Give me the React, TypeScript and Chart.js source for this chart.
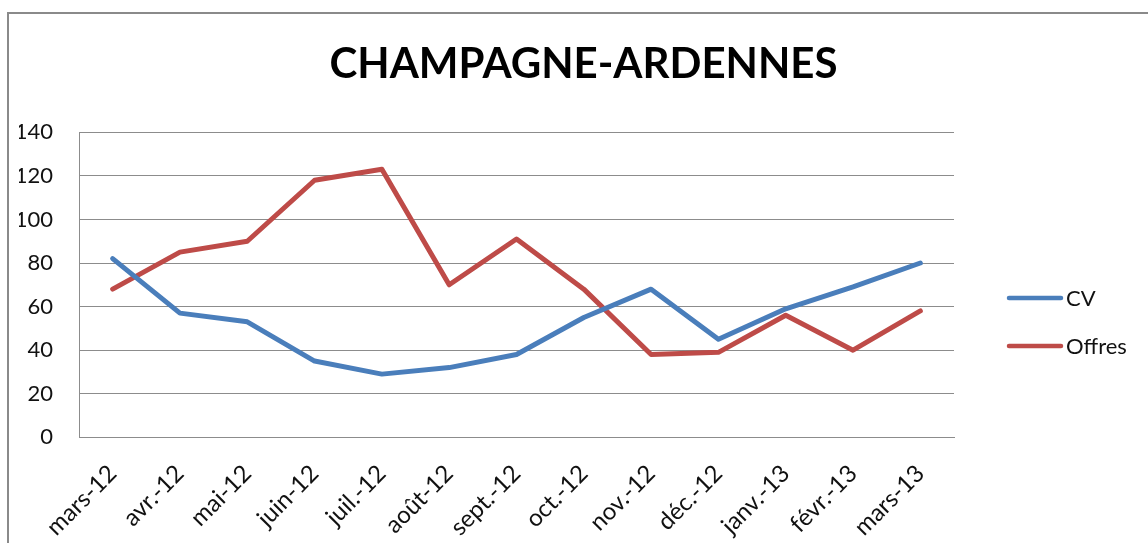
import React, { useEffect, useRef } from "react";
import { Chart, registerables } from "chart.js";

Chart.register(...registerables);

const chartTitle = "CHAMPAGNE-ARDENNES";
const categories = [
  "mars-12", "avr.-12", "mai-12", "juin-12", "juil.-12", "août-12", "sept.-12",
  "oct.-12", "nov.-12", "déc.-12", "janv.-13", "févr.-13", "mars-13",
];
const seriesNames = ["CV", "Offres"];
const cvValues = [82, 57, 53, 35, 29, 32, 38, 55, 68, 45, 59, 69, 80];
const offresValues = [68, 85, 90, 118, 123, 70, 91, 68, 38, 39, 56, 40, 58];
const yMin = 0;
const yMax = 140;
const yStep = 20;

const W = 1148;
const H = 543;
const FONT = "Lato, 'Open Sans', sans-serif";
const TEXT = "#111";
const GRID = "#8c8c8c";
const BLUE = "#4a7ebb";
const RED = "#be4b48";

const framePlugin = {
  id: "frame",
  beforeDraw(chart: any) {
    const ctx = chart.ctx;
    ctx.save();
    ctx.fillStyle = "#ffffff";
    ctx.fillRect(0, 0, chart.width, chart.height);
    ctx.fillStyle = "#8a8a8a";
    ctx.fillRect(7, 12, 2, chart.height - 12);
    ctx.fillRect(7, 12, chart.width - 7, 2);
    ctx.restore();
  },
};

const legendPlugin = {
  id: "sideLegend",
  afterDraw(chart: any) {
    const ctx = chart.ctx;
    ctx.save();
    chart.data.datasets.forEach((ds: any, i: number) => {
      const y = 298 + i * 48;
      ctx.strokeStyle = ds.borderColor;
      ctx.lineWidth = 4.5;
      ctx.lineCap = "round";
      ctx.beginPath();
      ctx.moveTo(1009, y);
      ctx.lineTo(1061, y);
      ctx.stroke();
      ctx.fillStyle = TEXT;
      ctx.font = `22px ${FONT}`;
      ctx.textBaseline = "middle";
      ctx.textAlign = "left";
      ctx.fillText(ds.label, 1066, y + 1);
    });
    ctx.restore();
  },
};

export default function App() {
  const ref = useRef<HTMLCanvasElement | null>(null);

  useEffect(() => {
    if (!ref.current) return;
    const chart = new Chart(ref.current, {
      type: "line",
      data: {
        labels: categories,
        datasets: [
          {
            label: seriesNames[0],
            data: cvValues,
            borderColor: BLUE,
            backgroundColor: BLUE,
            borderWidth: 5,
            pointRadius: 0,
            tension: 0,
            borderCapStyle: "round",
            borderJoinStyle: "round",
          },
          {
            label: seriesNames[1],
            data: offresValues,
            borderColor: RED,
            backgroundColor: RED,
            borderWidth: 5,
            pointRadius: 0,
            tension: 0,
            borderCapStyle: "round",
            borderJoinStyle: "round",
          },
        ],
      },
      options: {
        responsive: false,
        animation: false,
        layout: { padding: { left: 19, right: 0, top: 0, bottom: 0 } },
        plugins: {
          legend: { display: false },
          tooltip: { enabled: false },
          title: {
            display: true,
            text: chartTitle,
            color: "#000",
            font: { family: FONT, size: 42, weight: "bold", lineHeight: 1.2 },
            padding: { top: 39.5, bottom: 42.4 },
          },
        },
        scales: {
          x: {
            offset: true,
            grid: { display: false, drawTicks: false },
            border: { display: true, color: GRID, width: 1 },
            ticks: {
              color: TEXT,
              font: { family: FONT, size: 24 },
              minRotation: 45,
              maxRotation: 45,
              padding: 22,
              autoSkip: false,
            },
            afterFit(scale: any) {
              scale.height = H - 437.3;
            },
          },
          y: {
            min: yMin,
            max: yMax,
            grid: { color: GRID, lineWidth: 1, drawTicks: false },
            border: { display: true, color: GRID, width: 1 },
            ticks: {
              stepSize: yStep,
              color: TEXT,
              font: { family: FONT, size: 22 },
              padding: 26,
            },
            afterFit(scale: any) {
              scale.width = 79 - 19;
            },
          },
          legendSpace: {
            type: "linear",
            position: "right",
            display: true,
            grid: { display: false, drawTicks: false },
            border: { display: false },
            ticks: { display: false },
            afterFit(scale: any) {
              scale.width = W - 954;
            },
          },
        },
      },
      plugins: [framePlugin, legendPlugin],
    });
    return () => chart.destroy();
  }, []);

  return (
    <div style={{ position: "fixed", left: 0, top: 0, width: W, height: H, background: "#fff" }}>
      <canvas ref={ref} width={W} height={H} style={{ width: W, height: H, display: "block" }} />
    </div>
  );
}
